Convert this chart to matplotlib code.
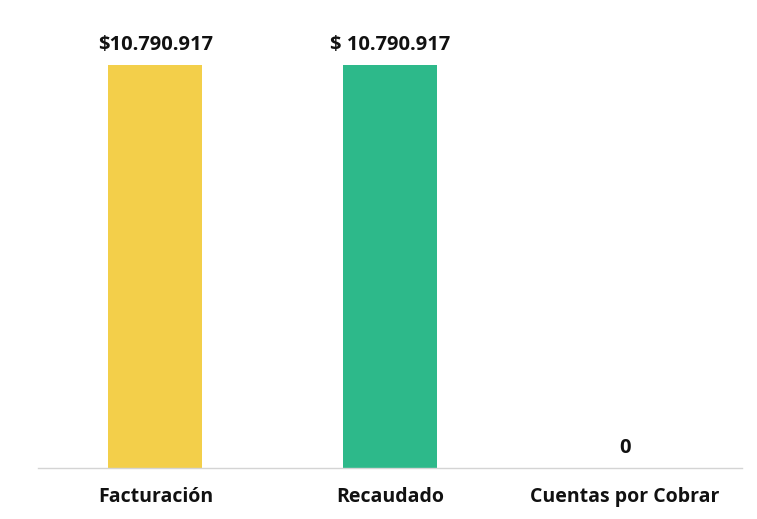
import matplotlib
matplotlib.use("Agg")
import matplotlib.pyplot as plt

categories = ["Facturación", "Recaudado", "Cuentas por Cobrar"]
values = [10790917, 10790917, 0]
value_labels = ["$10.790.917", "$ 10.790.917", "0"]
colors = ["#F3CF4A", "#2DB98A", "#2DB98A"]

fig = plt.figure(figsize=(7.57, 5.19), dpi=100)
ax = fig.add_axes([38/757, (519-468)/519, (742-38)/757, (468-20)/519])

x = range(len(categories))
bars = ax.bar(x, values, width=0.4, color=colors, zorder=2)
ax.set_xlim(-0.5, 2.5)
ax.set_ylim(0, 10790917 * 448 / 403)

for xi, v, lab in zip(x, values, value_labels):
    ax.annotate(lab, (xi, v), xytext=(0, 7), textcoords="offset points",
                ha="center", va="bottom", fontsize=14.5, fontweight="bold",
                family="Open Sans", color="#111111")

for s in ["top", "right", "left"]:
    ax.spines[s].set_visible(False)
ax.spines["bottom"].set_color("#d4d4d4")
ax.spines["bottom"].set_linewidth(1.0)
ax.set_yticks([])
ax.set_xticks(list(x))
ax.set_xticklabels(categories, fontsize=14, fontweight="bold", family="Open Sans", color="#111111")
ax.tick_params(axis="x", length=0, pad=14)

fig.savefig("out.png", dpi=100)
